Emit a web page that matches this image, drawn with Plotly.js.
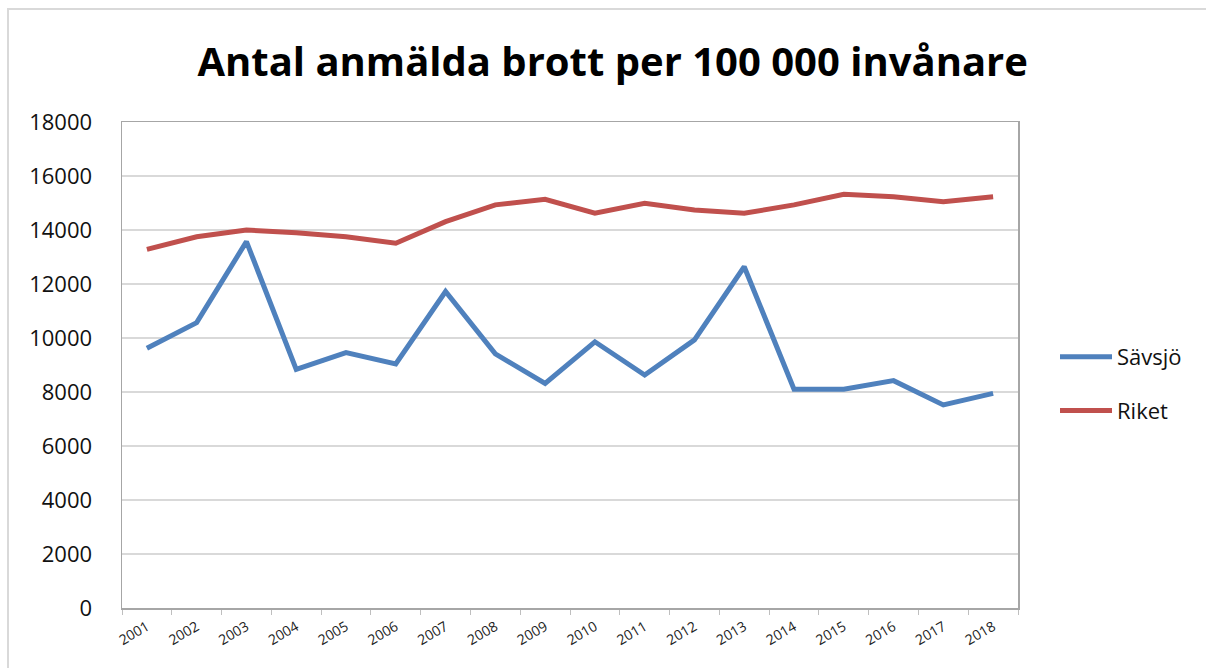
<!DOCTYPE html>
<html>
<head>
<meta charset="utf-8">
<script src="https://cdn.plot.ly/plotly-3.0.1.min.js"></script>
<style>html,body{margin:0;padding:0;background:#fff;}#chart{width:1206px;height:668px;}</style>
</head>
<body>
<div id="chart"></div>
<script>
const years = ["2001","2002","2003","2004","2005","2006","2007","2008","2009","2010","2011","2012","2013","2014","2015","2016","2017","2018"];
const savsjo = [9620,10570,13570,8840,9460,9040,11720,9410,8320,9860,8630,9930,12640,8100,8100,8420,7520,7950];
const riket = [13280,13750,14000,13900,13750,13510,14310,14930,15140,14620,14990,14740,14620,14930,15320,15230,15050,15230];
const yTicks = [0,2000,4000,6000,8000,10000,12000,14000,16000,18000];

const W = 1206, H = 668;
const L = 122, R = 188, T = 122, B = 60;
const pw = W - L - R, ph = H - T - B;
const px = v => (v - L) / pw;
const py = v => (H - B - v) / ph;

const font = "Open Sans, Liberation Sans, sans-serif";

const traces = [
  {x: years, y: savsjo, name: "Sävsjö", type: "scatter", mode: "lines",
   line: {color: "#4f81bd", width: 5}, legendgroup: "a"},
  {x: years, y: riket, name: "Riket", type: "scatter", mode: "lines",
   line: {color: "#c0504d", width: 5}, legendgroup: "b"}
];

const layout = {
  width: W, height: H,
  margin: {l: L, r: R, t: T, b: B},
  paper_bgcolor: "#fff", plot_bgcolor: "#fff",
  title: {text: "<b>Antal anmälda brott per 100 000 invånare</b>",
          font: {family: font, size: 40, color: "#000"},
          x: 0.508, xanchor: "center", y: 1 - 62/H, yanchor: "middle"},
  xaxis: {type: "category", range: [-0.5, 17.5], tickson: "boundaries",
          ticks: "outside", ticklen: 5, tickcolor: "#bfbfbf",
          showline: true, linecolor: "#a6a6a6", linewidth: 1.5, mirror: true,
          showgrid: false, tickangle: -30, ticklabelstandoff: 4,
          tickfont: {family: font, size: 14, color: "#222"}},
  yaxis: {range: [0, 18000], tickvals: yTicks, ticktext: yTicks.map(String),
          showgrid: true, gridcolor: "#d9d9d9", gridwidth: 1.5,
          showline: true, linecolor: "#a6a6a6", linewidth: 1.5, mirror: true,
          zeroline: false, ticks: "", ticklabelstandoff: 24,
          tickfont: {family: font, size: 22, color: "#111"}},
  showlegend: true,
  legend: {x: px(1055), y: py(384), xanchor: "left", yanchor: "middle",
           font: {family: font, size: 22, color: "#111"},
           traceorder: "grouped", tracegroupgap: 22, itemwidth: 52,
           bgcolor: "rgba(0,0,0,0)"},
  shapes: [
    {type: "rect", xref: "paper", yref: "paper",
     x0: px(8), x1: px(1215), y0: py(9), y1: py(680),
     line: {color: "#d9d9d9", width: 2}, fillcolor: "rgba(0,0,0,0)", layer: "below"}
  ]
};

Plotly.newPlot("chart", traces, layout, {displayModeBar: false, staticPlot: true});
</script>
</body>
</html>
